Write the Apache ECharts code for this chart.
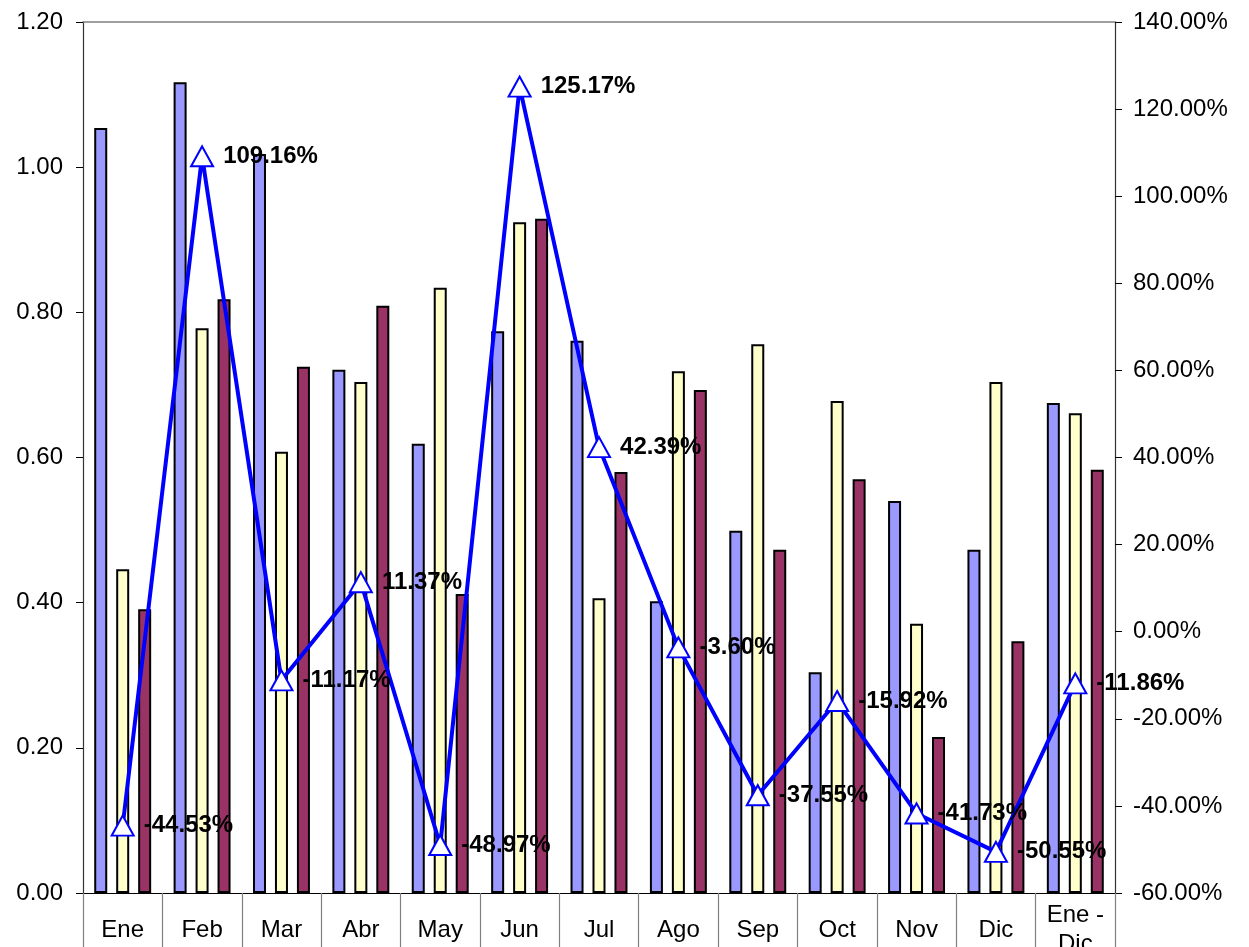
<!DOCTYPE html>
<html>
<head>
<meta charset="utf-8">
<script src="https://cdn.jsdelivr.net/npm/echarts@6/dist/echarts.min.js"></script>
<style>
  html, body { margin: 0; padding: 0; background: #fff; }
  #chart { width: 1249px; height: 947px; }
</style>
</head>
<body>
<div id="chart"></div>
<script>
// Data
const months = ['Ene', 'Feb', 'Mar', 'Abr', 'May', 'Jun', 'Jul', 'Ago', 'Sep', 'Oct', 'Nov', 'Dic', 'Ene - Dic']
const seriesA = [1.054, 1.117, 1.018, 0.721, 0.619, 0.774, 0.761, 0.402, 0.499, 0.304, 0.540, 0.473, 0.675]
const seriesB = [0.446, 0.778, 0.608, 0.704, 0.834, 0.924, 0.406, 0.719, 0.756, 0.678, 0.371, 0.704, 0.661]
const seriesC = [0.391, 0.818, 0.725, 0.809, 0.412, 0.929, 0.580, 0.693, 0.473, 0.570, 0.215, 0.347, 0.583]
const variation = [-44.53, 109.16, -11.17, 11.37, -48.97, 125.17, 42.39, -3.60, -37.55, -15.92, -41.73, -50.55, -11.86]

const font = 'Liberation Sans, Arial, sans-serif'

const chart = echarts.init(document.getElementById('chart'))

const barStyle = (color) => ({
  color: color,
  borderColor: '#000',
  borderWidth: 2
})

const option = {
  animation: false,
  backgroundColor: '#fff',
  textStyle: { fontFamily: font },
  grid: { left: 83, right: 134, top: 22, bottom: 54, outerBoundsMode: 'none', containLabel: false },
  xAxis: [
    {
      type: 'category',
      data: months,
      boundaryGap: true,
      axisLine: { onZero: false, lineStyle: { color: '#000', width: 1.2 } },
      axisTick: { show: true, length: 60, lineStyle: { color: '#808080', width: 1.2 } },
      axisLabel: {
        color: '#000',
        fontSize: 24,
        fontFamily: font,
        margin: 37,
        verticalAlign: 'middle',
        lineHeight: 29,
        interval: 0,
        formatter: (v) => v.replace(' - ', ' -\n')
      }
    },
    {
      type: 'category',
      data: months,
      position: 'top',
      axisLine: { onZero: false, lineStyle: { color: '#808080', width: 1.5 } },
      axisTick: { show: false },
      axisLabel: { show: false }
    }
  ],
  yAxis: [
    {
      type: 'value',
      min: 0,
      max: 1.2,
      interval: 0.2,
      axisLine: { show: true, lineStyle: { color: '#333', width: 1.2 } },
      axisTick: { show: true, length: 7, lineStyle: { color: '#000' } },
      splitLine: { show: false },
      axisLabel: {
        color: '#000',
        fontSize: 24,
        fontFamily: font,
        margin: 20,
        formatter: (v) => v.toFixed(2)
      }
    },
    {
      type: 'value',
      min: -60,
      max: 140,
      interval: 20,
      position: 'right',
      axisLine: { show: true, lineStyle: { color: '#333', width: 1.2 } },
      axisTick: { show: true, length: 7, lineStyle: { color: '#000' } },
      splitLine: { show: false },
      axisLabel: {
        color: '#000',
        fontSize: 24,
        fontFamily: font,
        margin: 18,
        formatter: (v) => v.toFixed(2) + '%'
      }
    }
  ],
  series: [
    {
      name: 'A',
      type: 'bar',
      data: seriesA,
      barWidth: 13,
      barGap: '69%',
      itemStyle: barStyle('#9999FF')
    },
    {
      name: 'B',
      type: 'bar',
      data: seriesB,
      barWidth: 13,
      barGap: '69%',
      itemStyle: barStyle('#FFFFCC')
    },
    {
      name: 'C',
      type: 'bar',
      data: seriesC,
      barWidth: 13,
      barGap: '69%',
      itemStyle: barStyle('#993366')
    },
    {
      name: 'Variación',
      type: 'line',
      yAxisIndex: 1,
      data: variation,
      z: 5,
      lineStyle: { color: '#0000FF', width: 4 },
      symbol: 'triangle',
      symbolSize: [22, 20],
      itemStyle: { color: '#fff', borderColor: '#0000FF', borderWidth: 2 },
      label: {
        show: true,
        position: 'right',
        distance: 9,
        color: '#000',
        fontSize: 24,
        fontWeight: 'bold',
        fontFamily: font,
        formatter: (p) => p.value.toFixed(2) + '%'
      }
    }
  ]
}

chart.setOption(option)
</script>
</body>
</html>
